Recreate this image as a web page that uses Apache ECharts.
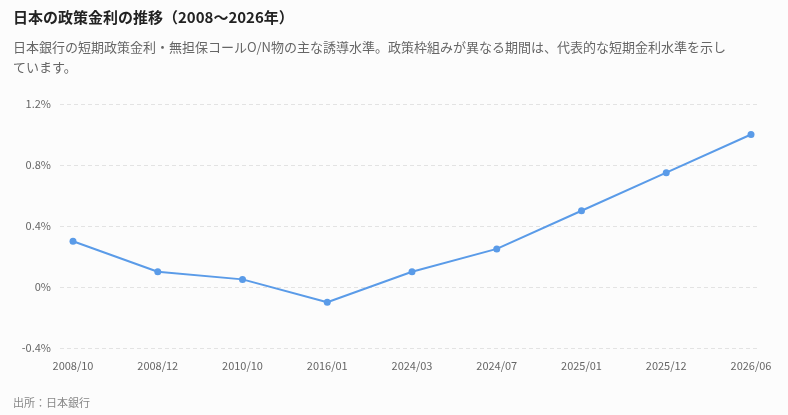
<!DOCTYPE html>
<html><head><meta charset="utf-8">
<script src="https://cdn.jsdelivr.net/npm/echarts@6/dist/echarts.min.js"></script>
<style>html,body{margin:0;padding:0;background:#fcfcfc;}#c{width:788px;height:415px;}</style>
</head><body><div id="c"></div>
<script>
const categories = ['2008/10','2008/12','2010/10','2016/01','2024/03','2024/07','2025/01','2025/12','2026/06'];
const rates = [0.3, 0.1, 0.05, -0.1, 0.1, 0.25, 0.5, 0.75, 1.0];
const yTicks = [-0.4, 0, 0.4, 0.8, 1.2];
const titleText = '日本の政策金利の推移（2008〜2026年）';
const subText = '日本銀行の短期政策金利・無担保コールO/N物の主な誘導水準。政策枠組みが異なる期間は、代表的な短期金利水準を示し\nています。';
const sourceText = '出所：日本銀行';
const FONT = '"Noto Sans CJK JP", "Noto Sans", sans-serif';
const yMin = yTicks[0], yMax = yTicks[yTicks.length-1], yStep = yTicks[1]-yTicks[0];
const chart = echarts.init(document.getElementById('c'));
chart.setOption({
  backgroundColor: '#fcfcfc',
  animation: false,
  title: [
    {text: titleText, left: 8, top: 5, textStyle: {fontFamily: FONT, fontSize: 15, fontWeight: 'bold', color: '#222'}},
    {text: subText, left: 8, top: 32, textStyle: {fontFamily: FONT, fontSize: 13, fontWeight: 'normal', color: '#666', lineHeight: 20}},
    {text: sourceText, left: 8, top: 392, textStyle: {fontFamily: FONT, fontSize: 11, fontWeight: 'normal', color: '#888'}}
  ],
  grid: [
    {left: 60, right: 28, top: 104, bottom: 67},
    {left: 73, right: 37, top: 104, bottom: 67}
  ],
  xAxis: [
    {gridIndex: 0, type: 'value', show: false, min: 0, max: 1},
    {gridIndex: 1, type: 'category', data: categories, boundaryGap: false,
     axisLine: {show: false}, axisTick: {show: false},
     axisLabel: {margin: 12, fontFamily: FONT, fontSize: 11, color: '#666', interval: 0}}
  ],
  yAxis: [
    {gridIndex: 0, type: 'value', min: yMin, max: yMax, interval: yStep,
     axisLine: {show: false}, axisTick: {show: false},
     axisLabel: {margin: 9, fontFamily: FONT, fontSize: 11, color: '#666',
       formatter: v => (Math.abs(v) < 1e-9 ? '0' : (+v.toFixed(1)).toString()) + '%'},
     splitLine: {lineStyle: {type: [4, 3], color: '#e3e3e3', width: 1}}},
    {gridIndex: 1, type: 'value', min: yMin, max: yMax, interval: yStep, show: false, splitLine: {show: false}}
  ],
  series: [{
    type: 'line', xAxisIndex: 1, yAxisIndex: 1, data: rates,
    symbol: 'circle', symbolSize: 7,
    lineStyle: {color: '#5a9be8', width: 2},
    itemStyle: {color: '#5a9be8'}
  }]
});
</script></body></html>
